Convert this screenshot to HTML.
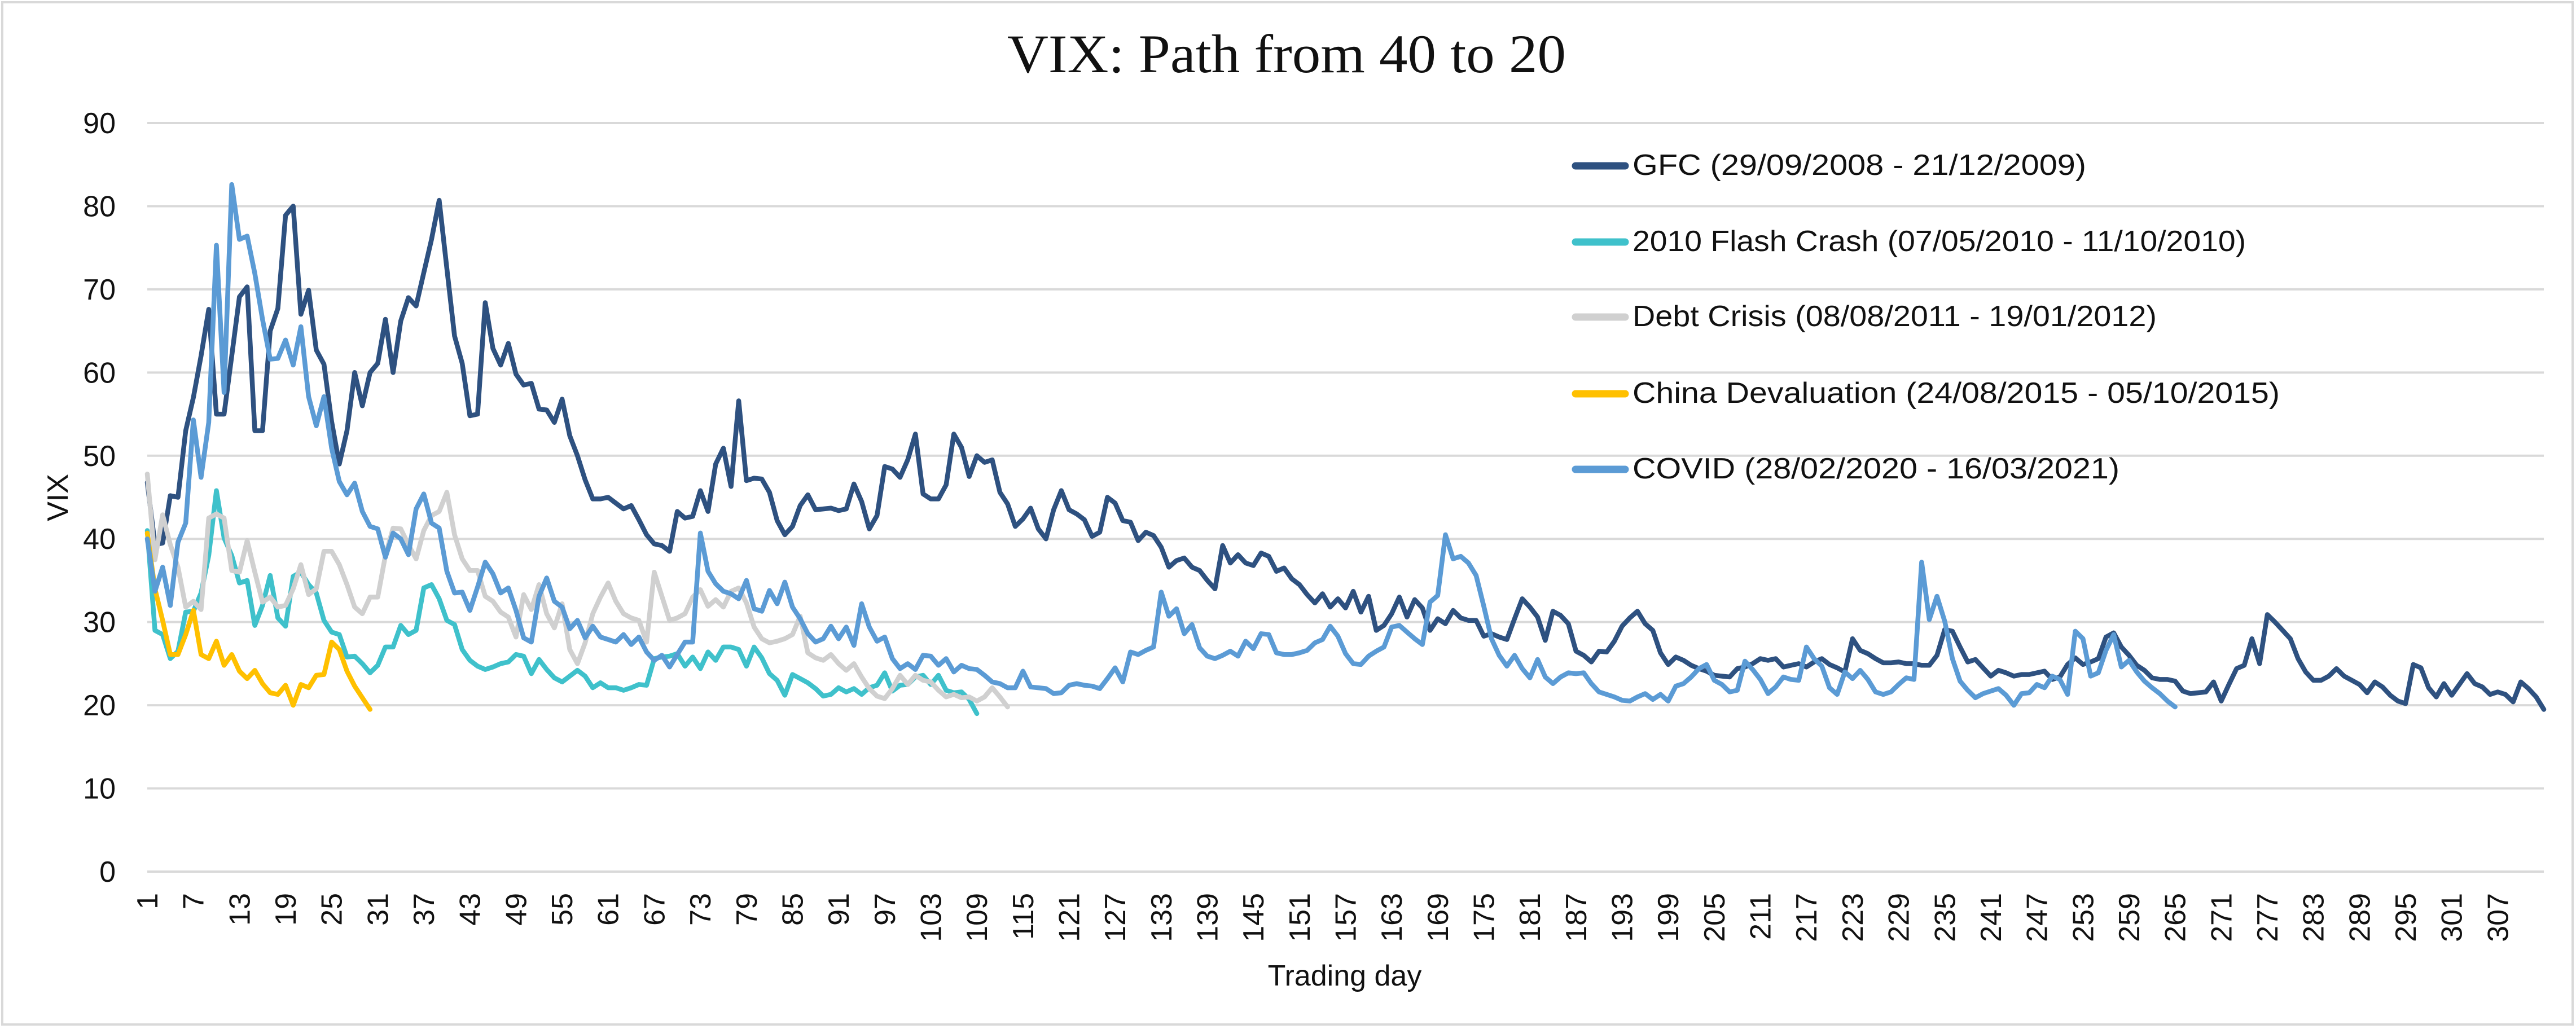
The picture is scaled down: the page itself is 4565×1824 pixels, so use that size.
<!DOCTYPE html>
<html><head><meta charset="utf-8"><title>VIX: Path from 40 to 20</title>
<style>html,body{margin:0;padding:0;background:#fff}svg{display:block}text{font-family:"Liberation Sans",sans-serif;fill:#111}</style>
</head><body>
<svg id="chart" width="4565" height="1824" viewBox="0 0 4565 1824" xmlns="http://www.w3.org/2000/svg">
<rect x="4" y="4" width="4555" height="1812" fill="#fff" stroke="#d9d9d9" stroke-width="4"/>
<text x="2280" y="128" text-anchor="middle" font-size="96" textLength="990" lengthAdjust="spacingAndGlyphs" style="font-family:'Liberation Serif',serif">VIX: Path from 40 to 20</text>
<g id="grid"></g>
<g id="yticks"></g>
<g id="xticks"></g>
<g id="series"></g>
<text transform="translate(120,882) rotate(-90)" text-anchor="middle" font-size="52">VIX</text>
<text x="2383" y="1747" text-anchor="middle" font-size="52">Trading day</text>
<g id="legend"></g>
</svg>
<script>
const yTicks = [0,10,20,30,40,50,60,70,80,90];
const seriesNames = ["GFC (29/09/2008 - 21/12/2009)","2010 Flash Crash (07/05/2010 - 11/10/2010)","Debt Crisis (08/08/2011 - 19/01/2012)","China Devaluation (24/08/2015 - 05/10/2015)","COVID (28/02/2020 - 16/03/2021)"];
const gfc = [46.8,39.3,39.5,45.2,45,53,57,62,67.6,55,
55,62,69.1,70.3,53,53,65,67.7,78.9,80,
67,69.9,62.7,61,54.1,49,53,60,56,60,
61.1,66.4,60,66.2,69,68,72,76,80.7,72.5,
64.4,61.1,54.8,55,68.4,62.9,60.9,63.5,59.8,58.5,
58.7,55.6,55.5,54,56.8,52.4,50,47.1,44.8,44.8,
45,44.3,43.6,44,42.3,40.5,39.4,39.2,38.5,43.3,
42.5,42.7,45.8,43.3,49,50.9,46.3,56.6,47,47.3,
47.2,45.6,42.2,40.5,41.5,44,45.3,43.5,43.6,43.7,
43.4,43.6,46.6,44.5,41.2,42.8,48.7,48.4,47.4,49.5,
52.6,45.4,44.8,44.8,46.5,52.6,51,47.5,50,49.2,
49.5,45.6,44.2,41.5,42.4,43.7,41.2,40,43.5,45.8,
43.5,43,42.3,40.3,40.8,45,44.3,42.2,42,39.8,
40.8,40.4,39,36.6,37.4,37.7,36.6,36.2,35,34,
39.2,37.1,38.1,37.1,36.8,38.3,37.9,36.1,36.5,35.2,
34.5,33.3,32.3,33.4,31.8,32.8,31.7,33.7,31.2,33.1,
29,29.6,31,33,30.6,32.7,31.7,29,30.4,29.8,
31.4,30.5,30.2,30.2,28.3,28.6,28.2,27.9,30.4,32.8,
31.8,30.6,27.8,31.3,30.8,29.8,26.5,26,25.2,26.5,
26.4,27.7,29.5,30.5,31.3,29.8,29,26.3,24.9,25.8,
25.4,24.8,24.4,24.1,23.6,23.5,23.4,24.4,24.6,25,
25.6,25.4,25.6,24.6,24.8,25,24.6,25.2,25.6,24.9,
24.5,24,28,26.6,26.2,25.6,25.1,25.1,25.2,25,
25,24.8,24.8,26,29.1,28.9,27,25.2,25.5,24.5,
23.5,24.2,23.9,23.5,23.7,23.7,23.9,24.1,23.1,23.4,
24.9,25.7,24.9,25.2,25.6,28.2,28.7,27,26,24.8,
24.2,23.3,23.1,23.1,22.9,21.7,21.4,21.5,21.6,22.8,
20.5,22.5,24.4,24.8,28,25,30.9,30,29,28,
25.6,24,23,23,23.5,24.4,23.5,23,22.5,21.5,
22.8,22.2,21.2,20.5,20.2,24.9,24.5,22.1,21,22.6,
21.2,22.5,23.8,22.6,22.2,21.3,21.6,21.3,20.4,22.8,
22,21,19.5];
const flash = [41,29,28.5,25.6,26.5,31.2,31.3,33.5,38,45.8,
40.1,38,34.7,35,29.6,32,35.6,30.5,29.5,35.5,
36,34.5,33.5,30.2,28.8,28.5,25.8,25.9,25,23.9,
24.8,27,27,29.6,28.5,29,34.1,34.5,32.8,30.2,
29.7,26.7,25.4,24.7,24.3,24.6,25,25.2,26.1,25.9,
23.8,25.5,24.3,23.3,22.8,23.5,24.2,23.5,22.1,22.7,
22.1,22.1,21.8,22.1,22.5,22.4,25.6,25.8,25.9,26.2,
24.7,25.8,24.4,26.4,25.4,27,27,26.7,24.7,27,
25.7,23.8,23,21.2,23.7,23.2,22.7,22,21.1,21.3,
22.1,21.6,22,21.3,22.1,22.4,23.9,21.7,22.4,22.5,
23.4,23.6,22.5,23.6,21.8,21.5,21.6,20.7,19];
const debt = [47.8,37.5,42.9,39.3,36.6,31.8,32.5,31.5,42.5,43,
42.5,36.2,36,39.8,36,32.4,33,31.8,32,34,
36.9,33.3,34,38.5,38.5,36.9,34.5,31.8,31,33,
33,38,41.3,41.2,39.3,37.6,41,42.8,43.3,45.6,
40.5,37.6,36.2,36.2,33.1,32.5,31.2,30.6,28.2,33.3,
31.5,34.5,31,29.3,32.2,26.7,25,27.5,31,33,
34.7,32.5,31,30.5,30.2,27.6,36,33.1,30.2,30.5,
31,33,33.9,31.9,32.7,31.8,33.7,34.1,32.3,29.4,
28,27.5,27.7,28,28.5,30.7,26.3,25.7,25.4,26.1,
25,24.2,25,23.4,22,21.1,20.8,22,23.6,22.5,
23.6,23,22.8,21.8,21,21.3,20.9,21,20.5,21,
22.1,21,19.8];
const china = [40.7,34,30.2,26.1,26.1,28.5,31.4,26.1,25.6,27.7,
24.8,26.1,24.1,23.2,24.2,22.6,21.5,21.3,22.4,20,
22.5,22.1,23.6,23.7,27.6,26.7,24.1,22.3,20.9,19.5];
const covid = [40,33.7,36.6,32,39.6,41.9,54.3,47.4,54,75.3,
57.6,82.6,76,76.4,71.9,66.4,61.6,61.7,63.9,60.9,
65.5,57.1,53.6,57.1,50.9,46.9,45.3,46.7,43.3,41.5,
41.2,37.8,40.7,40,38.1,43.6,45.4,41.9,41.3,36.1,
33.5,33.6,31.4,34.2,37.2,35.8,33.5,34.1,31.4,28.1,
27.6,33.1,35.3,32.5,31.8,29.2,30.2,28.1,29.5,28.2,
27.9,27.6,28.5,27.3,28.2,26.4,25.4,26,24.6,26.1,
27.6,27.6,40.7,36.1,34.6,33.7,33.4,32.8,35,31.6,
31.3,33.8,32.2,34.8,31.8,30.4,28.6,27.6,28,29.5,
28,29.4,27.2,32.2,29.4,27.7,28.2,25.6,24.4,25,
24.3,26,25.9,24.8,25.6,24,24.8,24.4,24.3,23.6,
22.8,22.6,22.1,22.1,24.1,22.2,22.1,22,21.4,21.5,
22.4,22.6,22.4,22.3,22,23.2,24.5,22.8,26.4,26.1,
26.6,27,33.6,30.7,31.6,28.6,29.7,26.9,25.9,25.6,
26,26.5,25.9,27.7,26.8,28.6,28.5,26.3,26.1,26.1,
26.3,26.6,27.5,27.9,29.5,28.3,26.2,25,24.9,25.9,
26.5,27,29.4,29.6,28.8,28,27.3,32.4,33.2,40.5,
37.6,37.9,37.1,35.6,31.9,28,26,24.7,26,24.4,
23.3,25.5,23.4,22.6,23.4,23.9,23.8,23.9,22.6,21.6,
21.3,21,20.6,20.5,21,21.4,20.7,21.3,20.5,22.3,
22.6,23.4,24.4,24.9,23,22.5,21.6,21.8,25.3,24.3,
23.1,21.4,22.2,23.4,23.1,23,27,25.6,24.7,22.1,
21.3,24,23.2,24.2,23.1,21.6,21.3,21.6,22.5,23.3,
23.1,37.2,30.3,33.1,30.1,25.6,22.9,21.8,20.9,21.4,
21.7,22,21.2,20,21.4,21.5,22.5,22.1,23.5,23.1,
21.3,28.9,28,23.5,23.9,26.6,28.5,24.6,25.4,24,
22.9,22.1,21.4,20.5,19.8];
const seriesColors = ["#2e5180","#3fc1cb","#d0d0d0","#ffc000","#5b9bd5"];

const NS = "http://www.w3.org/2000/svg";
const X0 = 261, X1 = 4508, Y0 = 1545, Y90 = 218, NCAT = 313;
function xScale(d){ return X0 + (d-1)*(X1-X0)/(NCAT-1); }
function yScale(v){ return Y0 - v*(Y0-Y90)/90; }
function mk(tag, attrs, parent){ const e=document.createElementNS(NS,tag); for(const k in attrs) e.setAttribute(k,attrs[k]); parent.appendChild(e); return e; }

const grid=document.getElementById('grid'), yt=document.getElementById('yticks');
yTicks.forEach(v=>{
  const l=mk('line',{x1:X0,x2:X1,y1:yScale(v),y2:yScale(v),stroke:'#d9d9d9','stroke-width':4},grid);
  
  
  const t=mk('text',{x:205,y:yScale(v)+18,'text-anchor':'end','font-size':52},yt);
  t.textContent=String(v);
  
  
});
const xt=document.getElementById('xticks');
for(let d=1; d<NCAT-3; d+=6){
  const x=xScale(d)+18;
  const t=mk('text',{transform:'translate('+x+',1583) rotate(-90)','text-anchor':'end','font-size':52},xt);
  t.textContent=String(d);
  
  
}
const sg=document.getElementById('series');
const allSeries=[gfc,flash,debt,china,covid];
const sNames=['gfc-line','flash-crash-line','debt-crisis-line','china-devaluation-line','covid-line'];
allSeries.forEach((arr,i)=>{
  const pts=arr.map((v,j)=>xScale(j+1).toFixed(1)+','+yScale(v).toFixed(1)).join(' ');
  const p=mk('polyline',{points:pts,fill:'none',stroke:seriesColors[i],'stroke-width':8.5,'stroke-linejoin':'round','stroke-linecap':'round'},sg);
  
  
});
const lg=document.getElementById('legend');
const legY=[294,429,562,698,832];
const legW=[804,1087,929,1147,863];
seriesNames.forEach((n,i)=>{
  const g=mk('g',{},lg);
  
  
  mk('line',{x1:2792,x2:2880,y1:legY[i],y2:legY[i],stroke:seriesColors[i],'stroke-width':13,'stroke-linecap':'round'},g);
  const t=mk('text',{x:2893,y:legY[i]+16,'font-size':52,textLength:legW[i],lengthAdjust:'spacingAndGlyphs'},g);
  t.textContent=n;
});
</script>
</body></html>
